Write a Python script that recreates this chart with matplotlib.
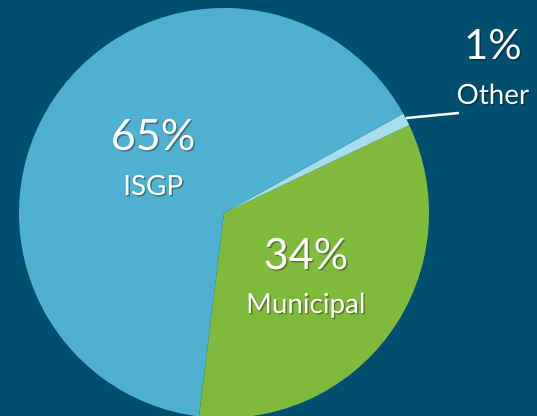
import matplotlib
matplotlib.use("Agg")
import matplotlib.pyplot as plt
import matplotlib.patheffects as pe

# data
labels = ["Municipal", "Other", "ISGP"]
shares = [34, 1, 65]
colors = ["#7FBA3D", "#A8DDEE", "#4FB0D0"]

bg = "#004F6E"
W, H = 537, 416

fig = plt.figure(figsize=(W / 100, H / 100), dpi=100, facecolor=bg)
# pie centre at (224, 213) px, radius 205 px
cx, cy, r = 224, 213, 205
ax = fig.add_axes([(cx - r) / W, (H - cy - r) / H, 2 * r / W, 2 * r / H])
ax.set_facecolor(bg)

ax.pie(shares, colors=colors, startangle=-97, counterclock=True,
       radius=1, wedgeprops=dict(linewidth=0))
ax.set_xlim(-1, 1)
ax.set_ylim(-1, 1)
ax.set_aspect("equal")
ax.axis("off")

shadow = [pe.withSimplePatchShadow(offset=(1, -1), shadow_rgbFace="black", alpha=0.35)]
font = "Lato"

def put(x, y, s, size):
    ax.text(x, y, s, ha="center", va="center", color="white", fontsize=size,
            family=font, clip_on=False, path_effects=shadow)

put(-0.346, 0.366, "65%", 31)
put(-0.346, 0.127, "ISGP", 20)
put(0.40, -0.215, "34%", 31)
put(0.40, -0.449, "Municipal", 20)
put(1.312, 0.81, "1%", 30)
put(1.312, 0.571, "Other", 20)

# leader line for the small slice
ax.plot([0.888, 1.146], [0.463, 0.488], color="white", linewidth=1.8,
        clip_on=False, solid_capstyle="butt")

fig.savefig("out.png", dpi=100, facecolor=bg)
